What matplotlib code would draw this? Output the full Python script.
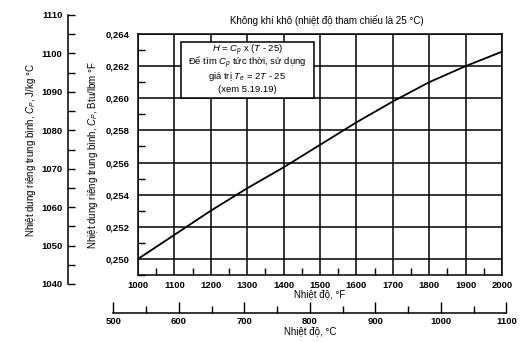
import numpy as np
import matplotlib
matplotlib.use("Agg")
import matplotlib.pyplot as plt
from matplotlib.patches import Rectangle
from matplotlib.ticker import MultipleLocator, FuncFormatter

plt.rcParams['font.family'] = ['Liberation Sans', 'DejaVu Sans']
plt.rcParams['mathtext.fontset'] = 'custom'
plt.rcParams['mathtext.rm'] = 'Liberation Sans'
plt.rcParams['mathtext.it'] = 'Liberation Sans:italic'
plt.rcParams['font.size'] = 7
plt.rcParams['xtick.labelsize'] = 6.8
plt.rcParams['ytick.labelsize'] = 6.8

# curve (deg F -> Cp, Btu/lbm F)
temp_f = [1000, 1100, 1200, 1300, 1400, 1500, 1600, 1700, 1800, 1900, 2000]
cp_btu = [0.2500, 0.2515, 0.2530, 0.2544, 0.2557, 0.2571, 0.2585, 0.2598, 0.2610, 0.2620, 0.2629]

box_lines = ['$H$ = $C_p$ x ($T$ - 25)',
             'Để tìm $C_p$ tức thời, sử dụng',
             'giá trị $T_e$ = 2$T$ - 25',
             '(xem 5.19.19)']

W, H = 524, 342
fig = plt.figure(figsize=(W / 100, H / 100), dpi=100)

def bold_ticks(a):
    for lab in a.get_xticklabels() + a.get_yticklabels():
        lab.set_fontweight('bold')

# main axes (pixel box 138..502 x 34..275)
L, R, T, B = 138, 502, 34, 275
ax = fig.add_axes([L / W, 1 - B / H, (R - L) / W, (B - T) / H])
ax.plot(temp_f, cp_btu, color='black', lw=1.3, zorder=3)
ax.set_xlim(1000, 2000)
ax.set_ylim(0.249, 0.264)
ax.xaxis.set_major_locator(MultipleLocator(100))
ax.xaxis.set_minor_locator(MultipleLocator(50))
ax.yaxis.set_minor_locator(MultipleLocator(0.001))
ax.set_yticks(np.arange(0.250, 0.2641, 0.002))
ax.yaxis.set_major_formatter(FuncFormatter(lambda v, p: ('%.3f' % v).replace('.', ',')))
ax.grid(True, which='major', color='black', lw=1.1)
ax.tick_params(which='major', length=0, pad=4)
ax.tick_params(axis='y', which='major', pad=6)
ax.tick_params(which='minor', direction='in', length=5, width=1)
ax.tick_params(axis='x', which='minor', top=False)
ax.tick_params(axis='y', which='minor', right=False)
for s in ax.spines.values():
    s.set_linewidth(1.1)
bold_ticks(ax)
ax.set_xlabel('Nhiệt độ, °F', labelpad=0)
ax.set_ylabel('Nhiệt dung riêng trung bình, $C_P$, Btu/lbm °F', labelpad=4)

# formula box
ax.add_patch(Rectangle((1118, 0.26002), 366, 0.00348, fc='white', ec='black', lw=1.1, zorder=4))
for txt, yy in zip(box_lines, [0.26298, 0.26218, 0.26134, 0.26056]):
    ax.text(1301, yy, txt, ha='center', va='center', fontsize=6.8, zorder=5)

fig.text(327 / W, 1 - 20 / H, 'Không khí khô (nhiệt độ tham chiếu là 25 °C)', ha='center', va='center')

# left scale in J/kg C
axj = fig.add_axes([68 / W, 1 - 284 / H, 0.001, 269 / H])
axj.set_ylim(1040, 1110)
axj.yaxis.set_major_locator(MultipleLocator(10))
axj.yaxis.set_minor_locator(MultipleLocator(5))
axj.set_xticks([])
axj.patch.set_visible(False)
for k in ['top', 'right', 'bottom']:
    axj.spines[k].set_visible(False)
axj.spines['left'].set_linewidth(1.1)
axj.tick_params(which='both', direction='in', length=5, width=1, pad=4)
bold_ticks(axj)
axj.set_ylabel('Nhiệt dung riêng trung bình, $C_P$, J/kg °C', labelpad=2)

# bottom scale in deg C
c_lo, c_hi = 500, 1100
f_lo, f_hi = c_lo * 1.8 + 32, c_hi * 1.8 + 32
x0 = L + (f_lo - 1000) / 1000 * (R - L)
x1 = L + (f_hi - 1000) / 1000 * (R - L)
axc = fig.add_axes([x0 / W, 1 - 313 / H, (x1 - x0) / W, 0.001])
axc.set_xlim(c_lo, c_hi)
axc.xaxis.set_major_locator(MultipleLocator(100))
axc.xaxis.set_minor_locator(MultipleLocator(50))
axc.set_yticks([])
axc.patch.set_visible(False)
for k in ['top', 'right', 'left']:
    axc.spines[k].set_visible(False)
axc.spines['bottom'].set_linewidth(1.1)
axc.tick_params(which='major', direction='in', length=8, width=1, pad=3)
axc.tick_params(which='minor', direction='in', length=5, width=1)
bold_ticks(axc)
axc.set_xlabel('Nhiệt độ, °C', labelpad=0)

fig.savefig('out.png', dpi=100)
